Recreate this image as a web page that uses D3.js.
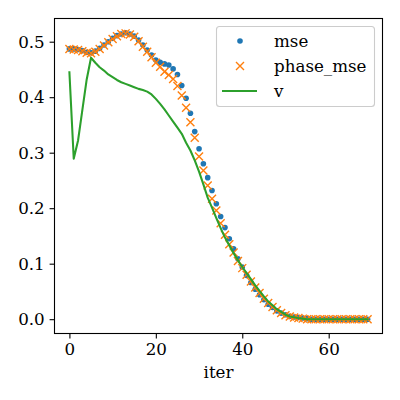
<!DOCTYPE html>
<html><head><meta charset="utf-8">
<script src="https://cdn.jsdelivr.net/npm/d3@7"></script>
<style>body{margin:0;background:#fff}svg{display:block}text{font-family:"DejaVu Serif",serif}</style>
</head><body>
<svg id="c" width="400" height="400"></svg>
<script>
const iters = d3.range(0, 70);
const mse = [0.487,0.487,0.486,0.484,0.481,0.480,0.483,0.488,0.494,0.500,
0.506,0.511,0.514,0.516,0.514,0.510,0.503,0.494,0.485,0.476,
0.467,0.463,0.460,0.458,0.451,0.441,0.421,0.398,0.371,0.338,
0.307,0.280,0.255,0.232,0.208,0.185,0.165,0.145,0.127,0.109,
0.094,0.079,0.066,0.054,0.044,0.035,0.027,0.021,0.015,0.011,
0.008,0.005,0.004,0.003,0.002,0.001,0,0,0,0,
0,0,0,0,0,0,0,0,0,0];
const phaseMse = [0.487,0.486,0.485,0.483,0.480,0.479,0.482,0.487,0.493,0.499,
0.505,0.510,0.514,0.515,0.513,0.509,0.501,0.491,0.482,0.472,
0.462,0.455,0.446,0.440,0.433,0.420,0.403,0.381,0.355,0.327,
0.293,0.268,0.241,0.217,0.196,0.173,0.152,0.135,0.120,0.105,
0.092,0.080,0.068,0.057,0.047,0.037,0.029,0.022,0.016,0.011,
0.007,0.005,0.003,0.002,0.001,0,0,0,0,0,
0,0,0,0,0,0,0,0,0,0];
const v = [0.445,0.289,0.322,0.377,0.432,0.471,0.462,0.454,0.448,0.441,
0.436,0.431,0.427,0.424,0.421,0.418,0.415,0.413,0.410,0.405,
0.397,0.388,0.378,0.367,0.356,0.345,0.334,0.318,0.304,0.286,
0.266,0.243,0.219,0.201,0.182,0.164,0.147,0.133,0.119,0.106,
0.094,0.083,0.072,0.061,0.051,0.041,0.032,0.025,0.018,0.013,
0.008,0.005,0.0035,0.002,0.001,0,0,0,0,0,
0,0,0,0,0,0,0,0,0,0];
const xTicks = [0,20,40,60];
const yTicks = [0.0,0.1,0.2,0.3,0.4,0.5];
const seriesNames = ["mse","phase_mse","v"];
const colors = ["#1f77b4","#ff7f0e","#2ca02c"];

const L=54.5,R=382.5,T=18.5,B=333.5;
const svg=d3.select("#c");
const xmin=d3.min(iters), xmax=d3.max(iters);
const allY=mse.concat(phaseMse,v);
const ymin=d3.min(allY), ymax=d3.max(allY);
const xm=(xmax-xmin)*0.05, ym=(ymax-ymin)*0.05;
const x=d3.scaleLinear().domain([xmin-xm,xmax+xm]).range([L,R]);
const y=d3.scaleLinear().domain([ymin-ym,ymax+ym]).range([B,T]);
const fs="16.7px";

// axes
const xa=svg.append("g").attr("transform",`translate(0,${B})`)
  .call(d3.axisBottom(x).tickValues(xTicks).tickSize(4.9).tickPadding(4.9).tickFormat(d3.format("d")));
const ya=svg.append("g").attr("transform",`translate(${L},0)`)
  .call(d3.axisLeft(y).tickValues(yTicks).tickSize(4.9).tickPadding(4.9).tickFormat(d3.format(".1f")));
[xa,ya].forEach(a=>{a.select(".domain").remove();a.selectAll("line").attr("stroke","#000").attr("stroke-width",1.1);
 a.selectAll("text").attr("font-size",fs).attr("font-family","DejaVu Serif").attr("fill","#000");});

const clip=svg.append("clipPath").attr("id","cp").append("rect").attr("x",L).attr("y",T).attr("width",R-L).attr("height",B-T);
const g=svg.append("g").attr("clip-path","url(#cp)");

// mse dots
g.selectAll("circle.m").data(iters).join("circle").attr("class","m")
 .attr("cx",i=>x(i)).attr("cy",(i,k)=>y(mse[k])).attr("r",2.8).attr("fill",colors[0]);
// phase x
const s=4;
g.selectAll("path.p").data(iters).join("path").attr("class","p")
 .attr("d",(i,k)=>{const cx=x(i),cy=y(phaseMse[k]);return `M${cx-s},${cy-s}L${cx+s},${cy+s}M${cx-s},${cy+s}L${cx+s},${cy-s}`;})
 .attr("stroke",colors[1]).attr("stroke-width",1.4).attr("fill","none");
// v line
g.append("path").datum(iters).attr("fill","none").attr("stroke",colors[2]).attr("stroke-width",2.08)
 .attr("stroke-linejoin","round").attr("stroke-linecap","square")
 .attr("d",d3.line().x(i=>x(i)).y((i,k)=>y(v[k])));

// spines
svg.append("rect").attr("x",L).attr("y",T).attr("width",R-L).attr("height",B-T)
 .attr("fill","none").attr("stroke","#000").attr("stroke-width",1.1);

// x label
svg.append("text").attr("x",(L+R)/2).attr("y",378).attr("text-anchor","middle").attr("font-size",fs).text("iter");

// legend
const lg=svg.append("g");
lg.append("rect").attr("x",216.5).attr("y",26.5).attr("width",158).attr("height",80).attr("rx",3)
 .attr("fill","#fff").attr("fill-opacity",0.8).attr("stroke","#ccc").attr("stroke-width",1.1);
const rows=[41,66,91];
lg.append("circle").attr("cx",240).attr("cy",rows[0]).attr("r",2.8).attr("fill",colors[0]);
lg.append("path").attr("d",`M${240-s},${rows[1]-s}L${240+s},${rows[1]+s}M${240-s},${rows[1]+s}L${240+s},${rows[1]-s}`)
 .attr("stroke",colors[1]).attr("stroke-width",1.4);
lg.append("line").attr("x1",222).attr("x2",257).attr("y1",rows[2]).attr("y2",rows[2]).attr("stroke",colors[2]).attr("stroke-width",2.08);
seriesNames.forEach((n,k)=>lg.append("text").attr("x",274).attr("y",rows[k]).attr("dy","0.35em").attr("font-size",fs).text(n));
</script>
</body></html>
